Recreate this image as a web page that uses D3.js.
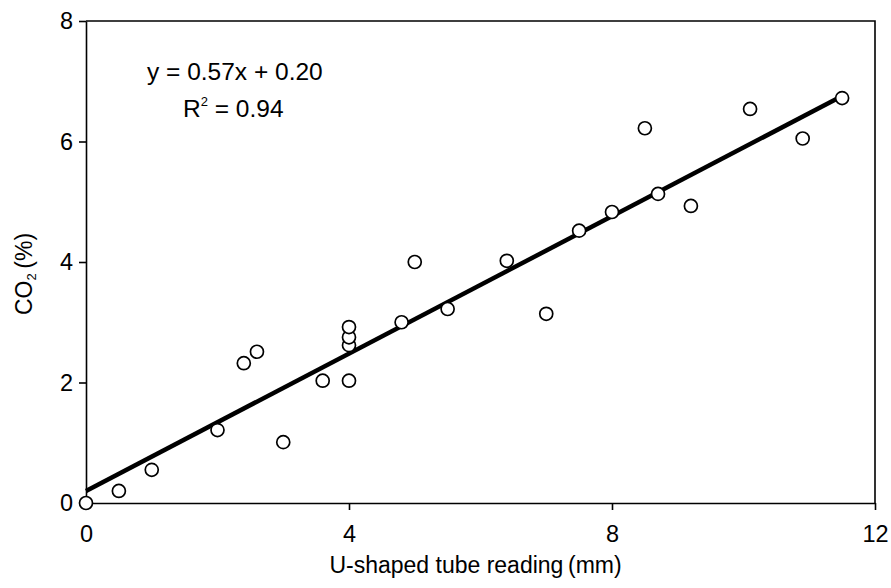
<!DOCTYPE html>
<html lang="en">
<head>
    <meta charset="UTF-8">
    <title>CO2 vs U-shaped tube reading</title>
    <script src="https://d3js.org/d3.v7.min.js"></script>
    <style>
        body { margin: 0; background: #fff; }
        text { font-family: "Liberation Sans", Arial, sans-serif; fill: #000; }
        .axis path, .axis line { stroke: #000; stroke-width: 1.6; }
        .axis text { font-size: 23.5px; }
        circle { fill: #fff; stroke: #000; stroke-width: 1.7; }
    </style>
</head>
<body>
<svg height="588" width="891"></svg>

<script>
    // readings (mm) and CO2 (%)
    const reading = [0, 0.5, 1.0, 2.0, 2.4, 2.6, 3.0, 3.6, 4.0, 4.0, 4.0, 4.0, 4.8, 5.0, 5.5,
                     6.4, 7.0, 7.5, 8.0, 8.5, 8.7, 9.2, 10.1, 10.9, 11.5];
    const co2     = [0, 0.2, 0.55, 1.21, 2.32, 2.51, 1.01, 2.03, 2.03, 2.62, 2.75, 2.92, 3.0, 4.0, 3.22,
                     4.02, 3.14, 4.52, 4.83, 6.22, 5.13, 4.93, 6.54, 6.05, 6.72];
    const xTicks = [0, 4, 8, 12];
    const yTicks = [0, 2, 4, 6, 8];
    const slope = 0.57, intercept = 0.20;
    const fitRange = [0, 11.5];

    const svg = d3.select("svg");
    const margin = {left: 86, top: 21, right: 16, bottom: 85};
    const w = 891 - margin.left - margin.right;
    const h = 588 - margin.top - margin.bottom;

    const x = d3.scaleLinear().domain([0, 12]).range([0, w]);
    const y = d3.scaleLinear().domain([0, 8]).range([h, 0]);

    const g = svg.append("g").attr("transform", `translate(${margin.left},${margin.top})`);

    // frame (top and right)
    g.append("path")
        .attr("d", `M0,0H${w}V${h}`)
        .attr("fill", "none")
        .attr("stroke", "#000")
        .attr("stroke-width", 1.6);

    g.append("g").attr("class", "axis")
        .attr("transform", `translate(0,${h})`)
        .call(d3.axisBottom(x).tickValues(xTicks).tickSize(7).tickSizeOuter(0).tickPadding(15))
        .selectAll("text").attr("dy", "0.71em");

    g.append("g").attr("class", "axis")
        .call(d3.axisLeft(y).tickValues(yTicks).tickSize(7).tickSizeOuter(0).tickPadding(6));

    // regression line
    g.append("line")
        .attr("x1", x(fitRange[0])).attr("y1", y(slope * fitRange[0] + intercept))
        .attr("x2", x(fitRange[1])).attr("y2", y(slope * fitRange[1] + intercept))
        .attr("stroke", "#000")
        .attr("stroke-width", 4.5);

    g.selectAll("circle")
        .data(reading.map((r, i) => [r, co2[i]]))
        .enter()
        .append("circle")
        .attr("cx", d => x(d[0]))
        .attr("cy", d => y(d[1]))
        .attr("r", 6.5);

    // equation
    g.append("text")
        .attr("x", 61).attr("y", 59)
        .attr("font-size", 24.5)
        .text("y = 0.57x + 0.20");
    const r2 = g.append("text")
        .attr("x", 97).attr("y", 96)
        .attr("font-size", 24.5);
    r2.append("tspan").text("R");
    r2.append("tspan").attr("dy", -11).attr("font-size", 13).text("2");
    r2.append("tspan").attr("dy", 11).text(" = 0.94");

    // axis titles
    svg.append("text")
        .attr("x", margin.left + w / 2 - 5).attr("y", 573)
        .attr("text-anchor", "middle")
        .attr("font-size", 23)
        .text("U-shaped tube reading\u2009(mm)");

    const yt = svg.append("text")
        .attr("transform", `translate(32,${margin.top + h / 2 + 12}) rotate(-90)`)
        .attr("text-anchor", "middle")
        .attr("font-size", 23);
    yt.append("tspan").text("CO");
    yt.append("tspan").attr("font-size", 13).attr("dy", 4).text("2");
    yt.append("tspan").attr("dy", -4).text("\u2009(%)");
</script>

</body>
</html>
